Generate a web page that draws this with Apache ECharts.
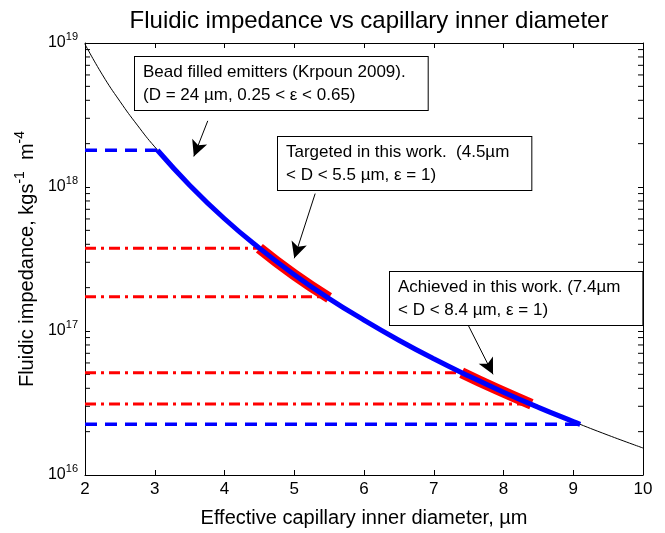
<!DOCTYPE html>
<html><head><meta charset="utf-8">
<script src="https://cdn.jsdelivr.net/npm/echarts@6/dist/echarts.min.js"></script>
<style>html,body{margin:0;padding:0;background:#fff}#c{width:665px;height:533px}</style>
</head><body><div id="c"></div>
<script>
// Black reference curve (impedance vs diameter)
const curveX = [2, 2.25, 2.5, 2.75, 3, 3.5, 4, 4.5, 5, 5.5, 6, 6.5, 7, 7.5, 8, 8.5, 9, 9.5, 10];
const curveY = [9.8e18, 6.01e18, 3.94e18, 2.69e18, 1.90e18, 1.03e18, 6.02e17, 3.76e17, 2.46e17, 1.68e17, 1.19e17, 8.63e16, 6.41e16, 4.87e16, 3.76e16, 2.95e16, 2.35e16, 1.89e16, 1.54e16];
// Thick blue range
const blueX = [3.04, 3.5, 4, 4.5, 5, 5.5, 6, 6.5, 7, 7.5, 8, 8.5, 9, 9.1];
const blueY = [1.8e18, 1.03e18, 6.02e17, 3.76e17, 2.46e17, 1.68e17, 1.19e17, 8.63e16, 6.41e16, 4.87e16, 3.76e16, 2.95e16, 2.35e16, 2.25e16];
// Targeted / achieved ranges (red)
const targetX = [4.5, 5, 5.5];
const targetY = [3.76e17, 2.46e17, 1.70e17];
const achievedX = [7.4, 7.9, 8.4];
const achievedY = [5.13e16, 3.95e16, 3.1e16];
// Horizontal guide lines
const blueDashEnds = [3.04, 9.1];
const blueDashLevels = [1.8e18, 2.25e16];
const redDashEnds = [4.5, 5.45, 7.4, 8.4];
const redDashLevels = [3.75e17, 1.73e17, 5.12e16, 3.11e16];
// Axis ticks
const xTicks = [2, 3, 4, 5, 6, 7, 8, 9, 10];
const yExponents = [16, 17, 18, 19];
// Annotation arrows [fromX, fromY, toX, toY]
const arrows = [
  [3.76, 2.88e18, 3.56, 1.63e18],
  [5.30, 9.0e17, 5.00, 3.2e17],
  [7.40, 1.35e17, 7.85, 5.0e16]
];

const zip = (xs, ys) => xs.map((x, i) => [x, ys[i]]);
const chart = echarts.init(document.getElementById('c'));
const FONT = 'Liberation Sans, Arial, sans-serif';

const series = [
  { type: 'line', data: zip(curveX, curveY), smooth: true, symbol: 'none',
    lineStyle: { color: '#000', width: 1 }, z: 2, silent: true }
];
blueDashLevels.forEach((lv, i) => series.push({
  type: 'line', data: [[2, lv], [blueDashEnds[i], lv]], symbol: 'none',
  lineStyle: { color: '#0000ff', width: 3.5, type: [12, 8] }, z: 3 }));
redDashLevels.forEach((lv, i) => series.push({
  type: 'line', data: [[2, lv], [redDashEnds[i], lv]], symbol: 'none',
  lineStyle: { color: '#ff0000', width: 3, type: [11, 5, 3, 5] }, z: 3 }));
series.push({ type: 'line', data: zip(targetX, targetY), smooth: true, symbol: 'none',
  lineStyle: { color: '#ff0000', width: 11, cap: 'butt' }, z: 4 });
series.push({ type: 'line', data: zip(achievedX, achievedY), smooth: true, symbol: 'none',
  lineStyle: { color: '#ff0000', width: 11, cap: 'butt' }, z: 4 });
series.push({ type: 'line', data: zip(blueX, blueY), smooth: true, symbol: 'none',
  lineStyle: { color: '#0000ff', width: 5 }, z: 5 });
series.push({ type: 'line', data: [], symbol: 'none', z: 6,
  markLine: { silent: true, symbol: ['none', 'arrow'], symbolSize: [12, 16], label: { show: false },
    lineStyle: { color: '#000', width: 1, type: 'solid' },
    data: arrows.map(a => [{ coord: [a[0], a[1]] }, { coord: [a[2], a[3]] }]) } });

const supLabel = v => '{b|10}{s|' + Math.round(Math.log10(v)) + '}';
const richTicks = { b: { fontSize: 16, fontFamily: FONT, color: '#000' },
                    s: { fontSize: 11, fontFamily: FONT, color: '#000', padding: [0, 0, 12, 0] } };

chart.setOption({
  animation: false,
  backgroundColor: '#fff',
  title: { text: 'Fluidic impedance vs capillary inner diameter', left: 364, top: 4, textAlign: 'center',
    textStyle: { fontSize: 24, fontWeight: 'normal', fontFamily: FONT, color: '#000' } },
  grid: { left: 85, right: 22, top: 43, bottom: 51 },
  xAxis: [
    { type: 'value', min: xTicks[0], max: xTicks[xTicks.length - 1], interval: 1,
      name: 'Effective capillary inner diameter, \u00b5m', nameLocation: 'middle', nameGap: 33,
      nameTextStyle: { fontSize: 20, fontFamily: FONT, color: '#000' },
      axisLine: { lineStyle: { color: '#000', width: 1 } },
      axisTick: { inside: true, length: 5, lineStyle: { color: '#000' } },
      axisLabel: { fontSize: 17, fontFamily: FONT, color: '#000', margin: 6 },
      splitLine: { show: false } },
    { type: 'value', position: 'top', min: 2, max: 10, interval: 1,
      axisLine: { show: true, lineStyle: { color: '#000', width: 1 } },
      axisTick: { inside: true, length: 5, lineStyle: { color: '#000' } },
      axisLabel: { show: false }, splitLine: { show: false } }
  ],
  yAxis: [
    { type: 'log', logBase: 10, min: Math.pow(10, yExponents[0]), max: Math.pow(10, yExponents[yExponents.length - 1]),
      name: '{n|Fluidic impedance, kgs}{s|-1}{n|  m}{s|-4}', nameLocation: 'middle', nameGap: 44,
      nameTextStyle: { rich: { n: { fontSize: 20, fontFamily: FONT, color: '#000' },
                               s: { fontSize: 14, fontFamily: FONT, color: '#000', padding: [0, 0, 14, 0] } } },
      axisLine: { show: true, lineStyle: { color: '#000', width: 1 } },
      axisTick: { inside: true, length: 5, lineStyle: { color: '#000' } },
      axisLabel: { formatter: supLabel, rich: richTicks, margin: 7 },
      splitLine: { show: false } },
    { type: 'log', logBase: 10, position: 'right', min: 1e16, max: 1e19,
      axisLine: { show: true, lineStyle: { color: '#000', width: 1 } },
      axisTick: { inside: true, length: 5, lineStyle: { color: '#000' } },
      axisLabel: { show: false }, splitLine: { show: false } }
  ],
  series: series
});

// minor log ticks (2..9 x 10^k) on left and right edges, plus annotation boxes
const g = [];
for (let e = yExponents[0]; e < yExponents[yExponents.length - 1]; e++) {
  for (let m = 2; m <= 9; m++) {
    const v = m * Math.pow(10, e);
    const pL = chart.convertToPixel({ xAxisIndex: 0, yAxisIndex: 0 }, [2, v]);
    const pR = chart.convertToPixel({ xAxisIndex: 0, yAxisIndex: 0 }, [10, v]);
    g.push({ type: 'line', shape: { x1: pL[0], y1: pL[1], x2: pL[0] + 5, y2: pL[1] }, style: { stroke: '#000', lineWidth: 1 }, silent: true });
    g.push({ type: 'line', shape: { x1: pR[0], y1: pR[1], x2: pR[0] - 5, y2: pR[1] }, style: { stroke: '#000', lineWidth: 1 }, silent: true });
  }
}
const boxes = [
  { x: 135, y: 57, text: 'Bead filled emitters (Krpoun 2009).\n(D = 24 \u00b5m, 0.25 < \u03b5 < 0.65)' },
  { x: 278, y: 137, text: 'Targeted in this work.  (4.5\u00b5m\n< D < 5.5 \u00b5m, \u03b5 = 1)' },
  { x: 390, y: 272, text: 'Achieved in this work. (7.4\u00b5m\n< D < 8.4 \u00b5m, \u03b5 = 1)' }
];
boxes.forEach(b => g.push({ type: 'text', x: b.x, y: b.y, z: 10, silent: true,
  style: { text: b.text, font: '17px ' + FONT, fill: '#000', lineHeight: 23,
           backgroundColor: '#fff', borderColor: '#000', borderWidth: 1, padding: [4, 22, 3, 8] } }));
chart.setOption({ graphic: g });
</script>
</body></html>
